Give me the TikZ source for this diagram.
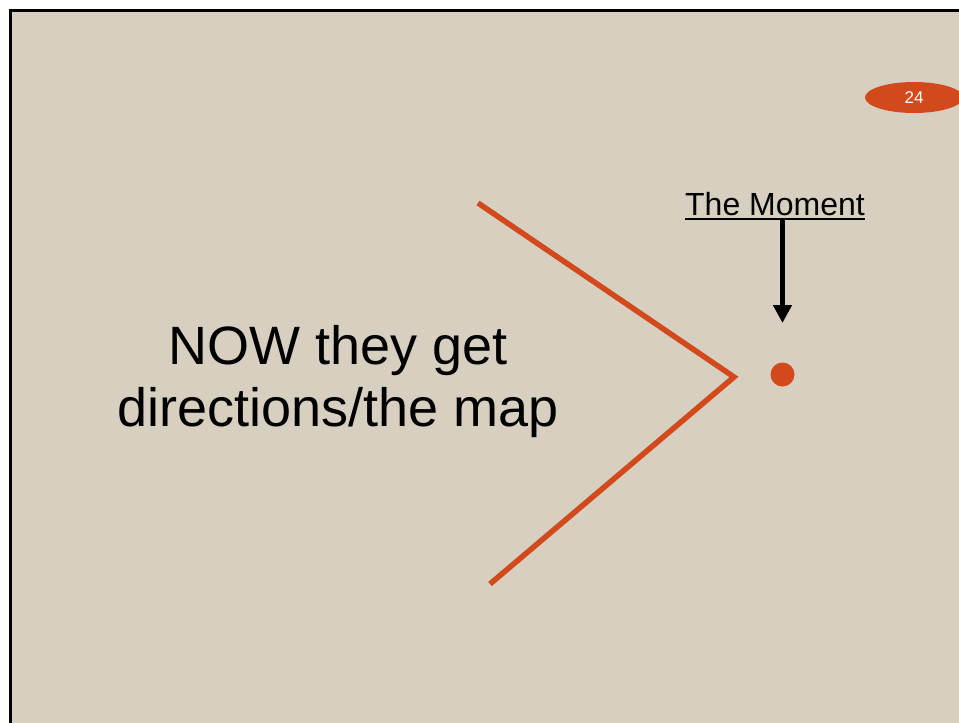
\documentclass[tikz,border=0pt]{standalone}
\usepackage{fontspec}
\setmainfont{Liberation Sans}
\usepackage{xcolor}
\usetikzlibrary{arrows.meta,positioning,shapes.geometric}
\definecolor{slidebg}{RGB}{215,207,192}
\definecolor{rust}{RGB}{210,73,27}

\begin{document}
\begin{tikzpicture}[x=1pt,y=-1pt,
	chevron/.style={draw=rust,line width=5.5pt},
	pointer/.style={-{Triangle[length=18pt,width=18pt]},line width=5.5pt}]
	
	\useasboundingbox (0,0) rectangle (959,723);
	\fill[white] (0,0) rectangle (959,723);
	
	% Slide
	\clip (0,0) rectangle (959,723);
	\draw[line width=3pt,fill=slidebg] (10.5,10.5) rectangle (975,740);
	
	% Page number
	\node[ellipse,fill=rust,minimum width=98pt,minimum height=31pt,inner sep=0pt,
	text=white,font=\fontsize{17}{20}\selectfont] (pagenum) at (914,97.5) {24};
	
	% Main text
	\node[align=center,inner sep=0pt,font=\fontsize{54}{62}\selectfont]
	(maintext) at (338,382) {NOW they get\\directions/the map};
	
	% Chevron
	\coordinate (upper) at (478,203);
	\coordinate (vertex) at (734,377);
	\coordinate (lower) at (490,584);
	\draw[chevron] (upper) -- (vertex) -- (lower);
	
	% The moment
	\node[circle,fill=rust,minimum size=24pt,inner sep=0pt] (dot) at (782.5,374.5) {};
	\node[anchor=base,inner xsep=0pt,inner ysep=3pt,font=\fontsize{32}{38}\selectfont]
	(moment) at (775,215) {The Moment};
	\draw[line width=2pt] (moment.south west) -- (moment.south east);
	\coordinate (tip) at (782.5,323);
	\draw[pointer] (dot |- moment.south) -- (tip);
	
\end{tikzpicture}
\end{document}
